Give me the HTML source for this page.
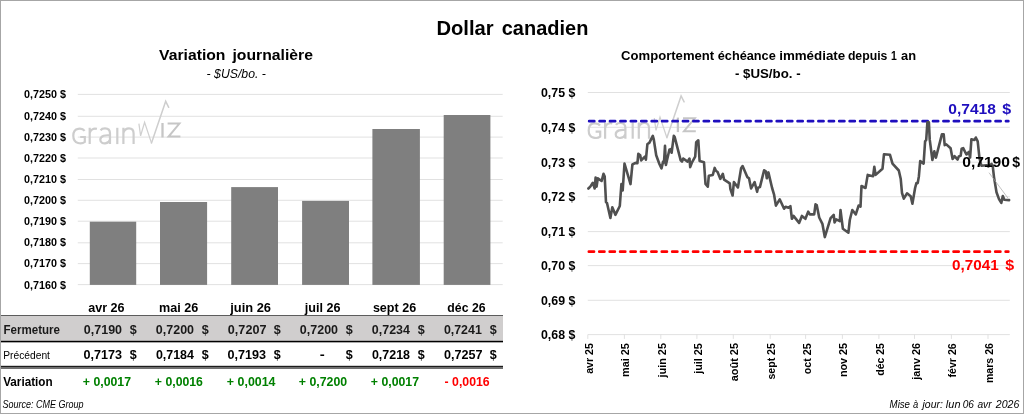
<!DOCTYPE html>
<html><head><meta charset="utf-8"><title>Dollar canadien</title>
<style>
html,body{margin:0;padding:0;background:#fff;}
svg{display:block;will-change:transform;font-family:'Liberation Sans', sans-serif;}
text{white-space:pre;}
</style></head><body>
<svg width="1024" height="414" viewBox="0 0 1024 414">
<rect x="0.5" y="0.5" width="1023" height="413" fill="#fff" stroke="#a6a6a6" stroke-width="1"/>
<text x="436.45" y="34.50" font-size="20.3" font-weight="bold" font-style="normal" fill="#000" textLength="57.27" lengthAdjust="spacingAndGlyphs" >Dollar</text>
<text x="501.77" y="34.50" font-size="20.3" font-weight="bold" font-style="normal" fill="#000" textLength="86.58" lengthAdjust="spacingAndGlyphs" >canadien</text>
<line x1="77.8" x2="502.7" y1="94.40" y2="94.40" stroke="#dcdcdc" stroke-width="0.85"/>
<text x="24.09" y="98.45" font-size="11.3" font-weight="bold" font-style="normal" fill="#000" textLength="41.97" lengthAdjust="spacingAndGlyphs" >0,7250 $</text>
<line x1="77.8" x2="502.7" y1="116.30" y2="116.30" stroke="#dcdcdc" stroke-width="0.85"/>
<text x="24.09" y="119.58" font-size="11.3" font-weight="bold" font-style="normal" fill="#000" textLength="41.97" lengthAdjust="spacingAndGlyphs" >0,7240 $</text>
<line x1="77.8" x2="502.7" y1="137.10" y2="137.10" stroke="#dcdcdc" stroke-width="0.85"/>
<text x="24.09" y="140.71" font-size="11.3" font-weight="bold" font-style="normal" fill="#000" textLength="41.97" lengthAdjust="spacingAndGlyphs" >0,7230 $</text>
<line x1="77.8" x2="502.7" y1="158.00" y2="158.00" stroke="#dcdcdc" stroke-width="0.85"/>
<text x="24.09" y="161.84" font-size="11.3" font-weight="bold" font-style="normal" fill="#000" textLength="41.97" lengthAdjust="spacingAndGlyphs" >0,7220 $</text>
<line x1="77.8" x2="502.7" y1="179.50" y2="179.50" stroke="#dcdcdc" stroke-width="0.85"/>
<text x="24.09" y="182.97" font-size="11.3" font-weight="bold" font-style="normal" fill="#000" textLength="41.97" lengthAdjust="spacingAndGlyphs" >0,7210 $</text>
<line x1="77.8" x2="502.7" y1="200.30" y2="200.30" stroke="#dcdcdc" stroke-width="0.85"/>
<text x="24.09" y="204.10" font-size="11.3" font-weight="bold" font-style="normal" fill="#000" textLength="41.97" lengthAdjust="spacingAndGlyphs" >0,7200 $</text>
<line x1="77.8" x2="502.7" y1="221.20" y2="221.20" stroke="#dcdcdc" stroke-width="0.85"/>
<text x="24.09" y="225.23" font-size="11.3" font-weight="bold" font-style="normal" fill="#000" textLength="41.97" lengthAdjust="spacingAndGlyphs" >0,7190 $</text>
<line x1="77.8" x2="502.7" y1="242.80" y2="242.80" stroke="#dcdcdc" stroke-width="0.85"/>
<text x="24.09" y="246.36" font-size="11.3" font-weight="bold" font-style="normal" fill="#000" textLength="41.97" lengthAdjust="spacingAndGlyphs" >0,7180 $</text>
<line x1="77.8" x2="502.7" y1="263.60" y2="263.60" stroke="#dcdcdc" stroke-width="0.85"/>
<text x="24.09" y="267.49" font-size="11.3" font-weight="bold" font-style="normal" fill="#000" textLength="41.97" lengthAdjust="spacingAndGlyphs" >0,7170 $</text>
<line x1="77.8" x2="502.7" y1="284.60" y2="284.60" stroke="#dcdcdc" stroke-width="0.85"/>
<text x="24.09" y="288.62" font-size="11.3" font-weight="bold" font-style="normal" fill="#000" textLength="41.97" lengthAdjust="spacingAndGlyphs" >0,7160 $</text>
<g transform="translate(0.00,0.00)" fill="none" stroke="#cdcdcd" stroke-width="2.2">
<path d="M84.6 130.9 C82.6 128.1 73.3 126.6 73.3 135.8 C73.3 144.8 82.2 144 84.8 142 L84.8 137 L80.2 137"/>
<path d="M89.7 127.8 L89.7 144.1 M89.7 133.2 C90.5 129.6 93.5 127.9 96.9 128.9"/>
<path d="M110 144.1 L110 133.6 C110 129.6 107.5 128.4 105 128.4 C103 128.4 101.4 129 100.6 130.3 M110 135.4 C106 135 100.3 135.4 100.3 139.8 C100.3 143.4 104 143.5 105.2 143.3 C107.6 143 109.5 141.4 110 139.4"/>
<path d="M117.3 127.8 L117.3 144.1"/>
<path d="M123.4 127.8 L123.4 144.1 M123.4 132.8 C124.5 129.6 127 128.4 129 128.4 C132 128.4 133.6 130.4 133.6 133.6 L133.6 144.1"/>
<polyline points="138.9,123.6 140.6,135.8 144.6,122.4 151.5,143.1" stroke="#d0d0d0" stroke-width="1.25" stroke-linejoin="miter"/>
<polyline points="151.5,143.1 165.7,101.3 168.7,107.3" stroke="#cecece" stroke-width="1.5" stroke-linejoin="miter" stroke-linecap="round"/>
<path d="M162.5 123 L162.5 137.5" stroke="#c6c6c6" stroke-width="2.3"/>
<path d="M167.6 123.6 L179.4 123.6 L168.6 136.6 L180.4 136.6" stroke="#c6c6c6" stroke-width="2"/>
</g>
<rect x="89.80" y="221.70" width="46.40" height="63.20" fill="#7f7f7f"/>
<rect x="160.00" y="202.00" width="47.10" height="82.90" fill="#7f7f7f"/>
<rect x="231.20" y="187.10" width="46.80" height="97.80" fill="#7f7f7f"/>
<rect x="302.10" y="200.90" width="46.90" height="84.00" fill="#7f7f7f"/>
<rect x="372.40" y="129.00" width="47.50" height="155.90" fill="#7f7f7f"/>
<rect x="443.70" y="115.00" width="46.70" height="169.90" fill="#7f7f7f"/>
<text x="159.14" y="60.10" font-size="14.6" font-weight="bold" font-style="normal" fill="#000" textLength="66.32" lengthAdjust="spacingAndGlyphs" >Variation</text>
<text x="232.50" y="60.10" font-size="14.6" font-weight="bold" font-style="normal" fill="#000" textLength="80.45" lengthAdjust="spacingAndGlyphs" >journalière</text>
<text x="206.60" y="77.50" font-size="12" font-weight="normal" font-style="italic" fill="#000" textLength="59.34" lengthAdjust="spacingAndGlyphs" >- $US/bo. -</text>
<rect x="1" y="315.6" width="502" height="25.4" fill="#d0cece"/>
<rect x="1" y="315" width="502" height="1" fill="#5c5c5c"/>
<rect x="1" y="340.8" width="502" height="1.25" fill="#000"/>
<rect x="1" y="342.05" width="502" height="0.6" fill="#777"/>
<rect x="1" y="365.8" width="502" height="1.2" fill="#1c1c1c"/>
<rect x="1" y="367" width="502" height="2" fill="#707070"/>
<text x="88.19" y="311.80" font-size="12.6" font-weight="bold" font-style="normal" fill="#000" textLength="36.38" lengthAdjust="spacingAndGlyphs" >avr 26</text>
<text x="158.95" y="311.80" font-size="12.6" font-weight="bold" font-style="normal" fill="#000" textLength="39.21" lengthAdjust="spacingAndGlyphs" >mai 26</text>
<text x="230.20" y="311.80" font-size="12.6" font-weight="bold" font-style="normal" fill="#000" textLength="40.84" lengthAdjust="spacingAndGlyphs" >juin 26</text>
<text x="304.81" y="311.80" font-size="12.6" font-weight="bold" font-style="normal" fill="#000" textLength="35.69" lengthAdjust="spacingAndGlyphs" >juil 26</text>
<text x="372.88" y="311.80" font-size="12.6" font-weight="bold" font-style="normal" fill="#000" textLength="43.28" lengthAdjust="spacingAndGlyphs" >sept 26</text>
<text x="447.36" y="311.80" font-size="12.6" font-weight="bold" font-style="normal" fill="#000" textLength="38.17" lengthAdjust="spacingAndGlyphs" >déc 26</text>
<text x="83.87" y="334.00" font-size="13.1" font-weight="bold" font-style="normal" fill="#1a1a1a" textLength="38.17" lengthAdjust="spacingAndGlyphs" >0,7190</text>
<text x="129.70" y="334.00" font-size="13.1" font-weight="bold" font-style="normal" fill="#1a1a1a" textLength="7.01" lengthAdjust="spacingAndGlyphs" >$</text>
<text x="83.53" y="359.20" font-size="12.8" font-weight="bold" font-style="normal" fill="#000" textLength="38.58" lengthAdjust="spacingAndGlyphs" >0,7173</text>
<text x="129.74" y="359.20" font-size="12.8" font-weight="bold" font-style="normal" fill="#000" textLength="6.97" lengthAdjust="spacingAndGlyphs" >$</text>
<text x="82.86" y="385.90" font-size="12.8" font-weight="bold" font-style="normal" fill="#008000" textLength="48.14" lengthAdjust="spacingAndGlyphs" >+ 0,0017</text>
<text x="155.87" y="334.00" font-size="13.1" font-weight="bold" font-style="normal" fill="#1a1a1a" textLength="38.17" lengthAdjust="spacingAndGlyphs" >0,7200</text>
<text x="201.70" y="334.00" font-size="13.1" font-weight="bold" font-style="normal" fill="#1a1a1a" textLength="7.01" lengthAdjust="spacingAndGlyphs" >$</text>
<text x="155.89" y="359.20" font-size="12.8" font-weight="bold" font-style="normal" fill="#000" textLength="38.09" lengthAdjust="spacingAndGlyphs" >0,7184</text>
<text x="201.74" y="359.20" font-size="12.8" font-weight="bold" font-style="normal" fill="#000" textLength="6.97" lengthAdjust="spacingAndGlyphs" >$</text>
<text x="154.86" y="385.90" font-size="12.8" font-weight="bold" font-style="normal" fill="#008000" textLength="48.07" lengthAdjust="spacingAndGlyphs" >+ 0,0016</text>
<text x="227.87" y="334.00" font-size="13.1" font-weight="bold" font-style="normal" fill="#1a1a1a" textLength="38.56" lengthAdjust="spacingAndGlyphs" >0,7207</text>
<text x="273.70" y="334.00" font-size="13.1" font-weight="bold" font-style="normal" fill="#1a1a1a" textLength="7.01" lengthAdjust="spacingAndGlyphs" >$</text>
<text x="227.53" y="359.20" font-size="12.8" font-weight="bold" font-style="normal" fill="#000" textLength="38.58" lengthAdjust="spacingAndGlyphs" >0,7193</text>
<text x="273.74" y="359.20" font-size="12.8" font-weight="bold" font-style="normal" fill="#000" textLength="6.97" lengthAdjust="spacingAndGlyphs" >$</text>
<text x="226.86" y="385.90" font-size="12.8" font-weight="bold" font-style="normal" fill="#008000" textLength="48.64" lengthAdjust="spacingAndGlyphs" >+ 0,0014</text>
<text x="299.87" y="334.00" font-size="13.1" font-weight="bold" font-style="normal" fill="#1a1a1a" textLength="38.17" lengthAdjust="spacingAndGlyphs" >0,7200</text>
<text x="345.70" y="334.00" font-size="13.1" font-weight="bold" font-style="normal" fill="#1a1a1a" textLength="7.01" lengthAdjust="spacingAndGlyphs" >$</text>
<text x="319.88" y="359.20" font-size="12.8" font-weight="bold" font-style="normal" fill="#000" textLength="4.99" lengthAdjust="spacingAndGlyphs" >-</text>
<text x="345.74" y="359.20" font-size="12.8" font-weight="bold" font-style="normal" fill="#000" textLength="6.97" lengthAdjust="spacingAndGlyphs" >$</text>
<text x="298.86" y="385.90" font-size="12.8" font-weight="bold" font-style="normal" fill="#008000" textLength="48.31" lengthAdjust="spacingAndGlyphs" >+ 0,7200</text>
<text x="371.87" y="334.00" font-size="13.1" font-weight="bold" font-style="normal" fill="#1a1a1a" textLength="38.09" lengthAdjust="spacingAndGlyphs" >0,7234</text>
<text x="417.70" y="334.00" font-size="13.1" font-weight="bold" font-style="normal" fill="#1a1a1a" textLength="7.01" lengthAdjust="spacingAndGlyphs" >$</text>
<text x="371.89" y="359.20" font-size="12.8" font-weight="bold" font-style="normal" fill="#000" textLength="38.12" lengthAdjust="spacingAndGlyphs" >0,7218</text>
<text x="417.74" y="359.20" font-size="12.8" font-weight="bold" font-style="normal" fill="#000" textLength="6.97" lengthAdjust="spacingAndGlyphs" >$</text>
<text x="370.86" y="385.90" font-size="12.8" font-weight="bold" font-style="normal" fill="#008000" textLength="48.14" lengthAdjust="spacingAndGlyphs" >+ 0,0017</text>
<text x="443.88" y="334.00" font-size="13.1" font-weight="bold" font-style="normal" fill="#1a1a1a" textLength="37.95" lengthAdjust="spacingAndGlyphs" >0,7241</text>
<text x="489.70" y="334.00" font-size="13.1" font-weight="bold" font-style="normal" fill="#1a1a1a" textLength="7.01" lengthAdjust="spacingAndGlyphs" >$</text>
<text x="443.88" y="359.20" font-size="12.8" font-weight="bold" font-style="normal" fill="#000" textLength="38.56" lengthAdjust="spacingAndGlyphs" >0,7257</text>
<text x="489.74" y="359.20" font-size="12.8" font-weight="bold" font-style="normal" fill="#000" textLength="6.97" lengthAdjust="spacingAndGlyphs" >$</text>
<text x="444.61" y="385.90" font-size="12.8" font-weight="bold" font-style="normal" fill="#ff0000" textLength="45.02" lengthAdjust="spacingAndGlyphs" >- 0,0016</text>
<text x="3.53" y="334.00" font-size="13.1" font-weight="bold" font-style="normal" fill="#1a1a1a" textLength="56.53" lengthAdjust="spacingAndGlyphs" >Fermeture</text>
<text x="3.28" y="358.60" font-size="11" font-weight="normal" font-style="normal" fill="#000" textLength="46.67" lengthAdjust="spacingAndGlyphs" >Précédent</text>
<text x="3.14" y="385.90" font-size="12.8" font-weight="bold" font-style="normal" fill="#000" textLength="49.52" lengthAdjust="spacingAndGlyphs" >Variation</text>
<text x="2.49" y="407.80" font-size="10.3" font-weight="normal" font-style="italic" fill="#000" textLength="80.94" lengthAdjust="spacingAndGlyphs" >Source: CME Group</text>
<line x1="587.8" x2="1009.8" y1="92.50" y2="92.50" stroke="#dcdcdc" stroke-width="0.85"/>
<text x="540.97" y="96.80" font-size="13" font-weight="bold" font-style="normal" fill="#000" textLength="34.34" lengthAdjust="spacingAndGlyphs" >0,75 $</text>
<line x1="587.8" x2="1009.8" y1="127.30" y2="127.30" stroke="#dcdcdc" stroke-width="0.85"/>
<text x="540.97" y="131.60" font-size="13" font-weight="bold" font-style="normal" fill="#000" textLength="34.34" lengthAdjust="spacingAndGlyphs" >0,74 $</text>
<line x1="587.8" x2="1009.8" y1="162.20" y2="162.20" stroke="#dcdcdc" stroke-width="0.85"/>
<text x="540.97" y="166.50" font-size="13" font-weight="bold" font-style="normal" fill="#000" textLength="34.34" lengthAdjust="spacingAndGlyphs" >0,73 $</text>
<line x1="587.8" x2="1009.8" y1="196.70" y2="196.70" stroke="#dcdcdc" stroke-width="0.85"/>
<text x="540.97" y="201.00" font-size="13" font-weight="bold" font-style="normal" fill="#000" textLength="34.34" lengthAdjust="spacingAndGlyphs" >0,72 $</text>
<line x1="587.8" x2="1009.8" y1="231.60" y2="231.60" stroke="#dcdcdc" stroke-width="0.85"/>
<text x="540.97" y="235.90" font-size="13" font-weight="bold" font-style="normal" fill="#000" textLength="34.34" lengthAdjust="spacingAndGlyphs" >0,71 $</text>
<line x1="587.8" x2="1009.8" y1="265.60" y2="265.60" stroke="#dcdcdc" stroke-width="0.85"/>
<text x="540.97" y="269.90" font-size="13" font-weight="bold" font-style="normal" fill="#000" textLength="34.34" lengthAdjust="spacingAndGlyphs" >0,70 $</text>
<line x1="587.8" x2="1009.8" y1="300.30" y2="300.30" stroke="#dcdcdc" stroke-width="0.85"/>
<text x="540.97" y="304.60" font-size="13" font-weight="bold" font-style="normal" fill="#000" textLength="34.34" lengthAdjust="spacingAndGlyphs" >0,69 $</text>
<line x1="587.8" x2="1009.8" y1="334.60" y2="334.60" stroke="#dcdcdc" stroke-width="0.85"/>
<text x="540.97" y="338.90" font-size="13" font-weight="bold" font-style="normal" fill="#000" textLength="34.34" lengthAdjust="spacingAndGlyphs" >0,68 $</text>
<line x1="587.80" x2="587.80" y1="334.60" y2="338.90" stroke="#dcdcdc" stroke-width="0.85"/>
<g transform="translate(592.80,0) rotate(-90)">
<text x="-373.86" y="0.00" font-size="10.4" font-weight="bold" font-style="normal" fill="#000" textLength="30.69" lengthAdjust="spacingAndGlyphs" >avr 25</text>
</g>
<line x1="624.40" x2="624.40" y1="334.60" y2="338.90" stroke="#dcdcdc" stroke-width="0.85"/>
<g transform="translate(629.40,0) rotate(-90)">
<text x="-376.95" y="0.00" font-size="10.4" font-weight="bold" font-style="normal" fill="#000" textLength="33.87" lengthAdjust="spacingAndGlyphs" >mai 25</text>
</g>
<line x1="660.80" x2="660.80" y1="334.60" y2="338.90" stroke="#dcdcdc" stroke-width="0.85"/>
<g transform="translate(665.80,0) rotate(-90)">
<text x="-377.56" y="0.00" font-size="10.4" font-weight="bold" font-style="normal" fill="#000" textLength="34.51" lengthAdjust="spacingAndGlyphs" >juin 25</text>
</g>
<line x1="696.90" x2="696.90" y1="334.60" y2="338.90" stroke="#dcdcdc" stroke-width="0.85"/>
<g transform="translate(701.90,0) rotate(-90)">
<text x="-373.86" y="0.00" font-size="10.4" font-weight="bold" font-style="normal" fill="#000" textLength="30.71" lengthAdjust="spacingAndGlyphs" >juil 25</text>
</g>
<line x1="733.30" x2="733.30" y1="334.60" y2="338.90" stroke="#dcdcdc" stroke-width="0.85"/>
<g transform="translate(738.30,0) rotate(-90)">
<text x="-381.23" y="0.00" font-size="10.4" font-weight="bold" font-style="normal" fill="#000" textLength="38.19" lengthAdjust="spacingAndGlyphs" >août 25</text>
</g>
<line x1="770.20" x2="770.20" y1="334.60" y2="338.90" stroke="#dcdcdc" stroke-width="0.85"/>
<g transform="translate(775.20,0) rotate(-90)">
<text x="-379.59" y="0.00" font-size="10.4" font-weight="bold" font-style="normal" fill="#000" textLength="36.43" lengthAdjust="spacingAndGlyphs" >sept 25</text>
</g>
<line x1="805.60" x2="805.60" y1="334.60" y2="338.90" stroke="#dcdcdc" stroke-width="0.85"/>
<g transform="translate(810.60,0) rotate(-90)">
<text x="-374.22" y="0.00" font-size="10.4" font-weight="bold" font-style="normal" fill="#000" textLength="30.90" lengthAdjust="spacingAndGlyphs" >oct 25</text>
</g>
<line x1="842.40" x2="842.40" y1="334.60" y2="338.90" stroke="#dcdcdc" stroke-width="0.85"/>
<g transform="translate(847.40,0) rotate(-90)">
<text x="-377.14" y="0.00" font-size="10.4" font-weight="bold" font-style="normal" fill="#000" textLength="34.03" lengthAdjust="spacingAndGlyphs" >nov 25</text>
</g>
<line x1="878.90" x2="878.90" y1="334.60" y2="338.90" stroke="#dcdcdc" stroke-width="0.85"/>
<g transform="translate(883.90,0) rotate(-90)">
<text x="-375.72" y="0.00" font-size="10.4" font-weight="bold" font-style="normal" fill="#000" textLength="32.63" lengthAdjust="spacingAndGlyphs" >déc 25</text>
</g>
<line x1="914.50" x2="914.50" y1="334.60" y2="338.90" stroke="#dcdcdc" stroke-width="0.85"/>
<g transform="translate(919.50,0) rotate(-90)">
<text x="-379.66" y="0.00" font-size="10.4" font-weight="bold" font-style="normal" fill="#000" textLength="36.65" lengthAdjust="spacingAndGlyphs" >janv 26</text>
</g>
<line x1="951.40" x2="951.40" y1="334.60" y2="338.90" stroke="#dcdcdc" stroke-width="0.85"/>
<g transform="translate(956.40,0) rotate(-90)">
<text x="-377.49" y="0.00" font-size="10.4" font-weight="bold" font-style="normal" fill="#000" textLength="34.25" lengthAdjust="spacingAndGlyphs" >févr 26</text>
</g>
<line x1="988.00" x2="988.00" y1="334.60" y2="338.90" stroke="#dcdcdc" stroke-width="0.85"/>
<g transform="translate(993.00,0) rotate(-90)">
<text x="-383.03" y="0.00" font-size="10.4" font-weight="bold" font-style="normal" fill="#000" textLength="39.90" lengthAdjust="spacingAndGlyphs" >mars 26</text>
</g>
<g transform="translate(515.40,-5.40)" fill="none" stroke="#cdcdcd" stroke-width="2.2">
<path d="M84.6 130.9 C82.6 128.1 73.3 126.6 73.3 135.8 C73.3 144.8 82.2 144 84.8 142 L84.8 137 L80.2 137"/>
<path d="M89.7 127.8 L89.7 144.1 M89.7 133.2 C90.5 129.6 93.5 127.9 96.9 128.9"/>
<path d="M110 144.1 L110 133.6 C110 129.6 107.5 128.4 105 128.4 C103 128.4 101.4 129 100.6 130.3 M110 135.4 C106 135 100.3 135.4 100.3 139.8 C100.3 143.4 104 143.5 105.2 143.3 C107.6 143 109.5 141.4 110 139.4"/>
<path d="M117.3 127.8 L117.3 144.1"/>
<path d="M123.4 127.8 L123.4 144.1 M123.4 132.8 C124.5 129.6 127 128.4 129 128.4 C132 128.4 133.6 130.4 133.6 133.6 L133.6 144.1"/>
<polyline points="138.9,123.6 140.6,135.8 144.6,122.4 151.5,143.1" stroke="#d0d0d0" stroke-width="1.25" stroke-linejoin="miter"/>
<polyline points="151.5,143.1 165.7,101.3 168.7,107.3" stroke="#cecece" stroke-width="1.5" stroke-linejoin="miter" stroke-linecap="round"/>
<path d="M162.5 123 L162.5 137.5" stroke="#c6c6c6" stroke-width="2.3"/>
<path d="M167.6 123.6 L179.4 123.6 L168.6 136.6 L180.4 136.6" stroke="#c6c6c6" stroke-width="2"/>
</g>
<text x="621.14" y="59.80" font-size="12.7" font-weight="bold" font-style="normal" fill="#000" textLength="93.04" lengthAdjust="spacingAndGlyphs" >Comportement</text>
<text x="717.75" y="59.80" font-size="12.7" font-weight="bold" font-style="normal" fill="#000" textLength="58.00" lengthAdjust="spacingAndGlyphs" >échéance</text>
<text x="779.18" y="59.80" font-size="12.7" font-weight="bold" font-style="normal" fill="#000" textLength="66.05" lengthAdjust="spacingAndGlyphs" >immédiate</text>
<text x="847.88" y="59.80" font-size="12.7" font-weight="bold" font-style="normal" fill="#000" textLength="39.53" lengthAdjust="spacingAndGlyphs" >depuis</text>
<text x="891.07" y="59.80" font-size="12.7" font-weight="bold" font-style="normal" fill="#000" textLength="5.80" lengthAdjust="spacingAndGlyphs" >1</text>
<text x="901.07" y="59.80" font-size="12.7" font-weight="bold" font-style="normal" fill="#000" textLength="15.02" lengthAdjust="spacingAndGlyphs" >an</text>
<text x="734.97" y="77.90" font-size="12.5" font-weight="bold" font-style="normal" fill="#000" textLength="65.59" lengthAdjust="spacingAndGlyphs" >- $US/bo. -</text>
<line x1="589.2" x2="1008.3" y1="121.2" y2="121.2" stroke="#1e0ebe" stroke-width="2.8" stroke-dasharray="5.06 5.36" stroke-linecap="round"/>
<line x1="588.9" x2="1008.3" y1="251.7" y2="251.7" stroke="#ff0000" stroke-width="2.8" stroke-dasharray="5.06 5.36" stroke-linecap="round"/>
<text x="948.32" y="114.30" font-size="14.4" font-weight="bold" font-style="normal" fill="#1e0ebe" textLength="47.63" lengthAdjust="spacingAndGlyphs" >0,7418</text>
<text x="1002.15" y="114.30" font-size="14.4" font-weight="bold" font-style="normal" fill="#1e0ebe" textLength="8.92" lengthAdjust="spacingAndGlyphs" >$</text>
<text x="952.09" y="269.50" font-size="14.4" font-weight="bold" font-style="normal" fill="#ff0000" textLength="46.72" lengthAdjust="spacingAndGlyphs" >0,7041</text>
<text x="1005.15" y="269.50" font-size="14.4" font-weight="bold" font-style="normal" fill="#ff0000" textLength="8.92" lengthAdjust="spacingAndGlyphs" >$</text>
<polyline points="588.4,188.5 590.3,186.6 592.8,182.8 594.7,188.5 595.6,177.6 596.6,186.6 597.8,178.4 601.6,181 603.5,173.8 604.7,176.6 606,202.3 607,203 610.4,218 612.3,207.3 615.4,214.8 619.8,206 621.4,184.1 622.7,190.4 624.5,163.5 630.5,184.1 632.4,164.5 635.5,162.9 637.4,163.3 638.3,153.8 640.2,155.3 641.2,160.4 644.9,156.6 645.9,159.7 647.4,144 649.3,142.8 652.8,135.9 653.7,139 656.2,155.3 659.4,164 661.5,168.4 663.1,161.6 664,162.3 665,145.9 665.9,165 669.4,149.7 670.7,149.1 671.6,152.8 673.8,135.9 674.7,137.1 680.7,160.4 682,161.6 683.2,158.5 687.6,161.6 689.5,158.5 690.2,167.1 692,162.3 695.2,156.6 696.2,142.2 698.3,140.3 699.6,161 704,162.3 705.5,184 707.8,186.7 708.8,175.8 712.8,174.9 714.7,167.9 715.9,170.8 717.6,172 720.3,178.9 722.8,173.9 724.1,179.6 729.8,183.3 730.4,189 732.6,195.5 733.9,182.1 737.9,187.5 741.1,168.3 742.6,166.1 747.3,177.1 749,178.3 751.1,188.4 754.6,182.1 757.1,191.8 758,187.7 759.9,187.1 762.4,177.1 764.1,170.2 765.8,171.4 766.8,178.3 768.4,172.4 772.1,188 774,194.3 775.9,205.6 779.7,199.3 784.1,208.7 785.6,206.8 788.5,207.8 790.4,206.2 791.9,218.8 793.5,215.9 799.1,222.9 801.9,215.9 805.4,218.8 808.2,211.6 809.8,214.4 814.2,214.4 815.5,204.3 816.7,205 819.2,217.5 822.4,223.8 824.8,237.1 830.6,218.2 833.7,215 834.6,222.5 836.2,219.4 839.8,221.1 840.5,210 842.9,228.8 848.4,232.7 849.8,220 852.3,210 855.8,214.4 858.6,205.6 860.5,206.6 861.5,186 865.5,188 867.7,174.9 873.1,176.2 874.3,166.8 875.6,174.9 882.5,168.7 884,154.2 890,154.8 892.5,163.6 898.8,170.5 900.7,178.7 902,193 903.8,198.7 907,193.3 910.7,196.2 912.4,203.7 915.1,188 916.4,183.1 917.7,183.1 918.9,176.2 920.2,161.1 923.6,163.6 925.1,141.3 926.2,140 927.4,122.4 928.9,122.4 929.7,139.4 932.4,160 934.3,151.3 935.9,157.8 941.9,134.4 943.7,134.4 944.7,145.1 946.3,144.4 950.6,148.2 952.6,159 954.5,156.2 957.6,159.5 958.8,156.4 960.7,155.7 961.6,148.8 963.2,148.2 966.4,154.5 968.9,152 970.1,157.6 971.4,139.4 974.5,140 975.8,137.5 977.7,141.3 979.5,158.3 981.4,165.8 986.5,165.2 988.3,166.4 991.5,163.9 992.7,165.8 994,177.1 996.5,192.2 999,199.1 1001.3,202.9 1002.8,196 1004.3,199.7 1009.1,200.1" fill="none" stroke="#505050" stroke-width="2.6" stroke-linejoin="round" stroke-linecap="round"/>
<line x1="989" y1="172.7" x2="1007.8" y2="197.9" stroke="#a6a6a6" stroke-width="0.7"/>
<text x="962.22" y="166.60" font-size="15.2" font-weight="bold" font-style="normal" fill="#000" textLength="47.71" lengthAdjust="spacingAndGlyphs" >0,7190</text>
<text x="1012.14" y="166.60" font-size="15.2" font-weight="bold" font-style="normal" fill="#000" textLength="7.82" lengthAdjust="spacingAndGlyphs" >$</text>
<text x="889.60" y="407.50" font-size="10.7" font-weight="normal" font-style="italic" fill="#000" textLength="20.39" lengthAdjust="spacingAndGlyphs" >Mise</text>
<text x="913.02" y="407.50" font-size="10.7" font-weight="normal" font-style="italic" fill="#000" textLength="5.22" lengthAdjust="spacingAndGlyphs" >à</text>
<text x="922.55" y="407.50" font-size="10.7" font-weight="normal" font-style="italic" fill="#000" textLength="20.37" lengthAdjust="spacingAndGlyphs" >jour:</text>
<text x="945.86" y="407.50" font-size="10.7" font-weight="normal" font-style="italic" fill="#000" textLength="14.61" lengthAdjust="spacingAndGlyphs" >lun</text>
<text x="962.68" y="407.50" font-size="10.7" font-weight="normal" font-style="italic" fill="#000" textLength="11.26" lengthAdjust="spacingAndGlyphs" >06</text>
<text x="977.44" y="407.50" font-size="10.7" font-weight="normal" font-style="italic" fill="#000" textLength="14.20" lengthAdjust="spacingAndGlyphs" >avr</text>
<text x="995.79" y="407.50" font-size="10.7" font-weight="normal" font-style="italic" fill="#000" textLength="23.56" lengthAdjust="spacingAndGlyphs" >2026</text>
</svg>
</body></html>
